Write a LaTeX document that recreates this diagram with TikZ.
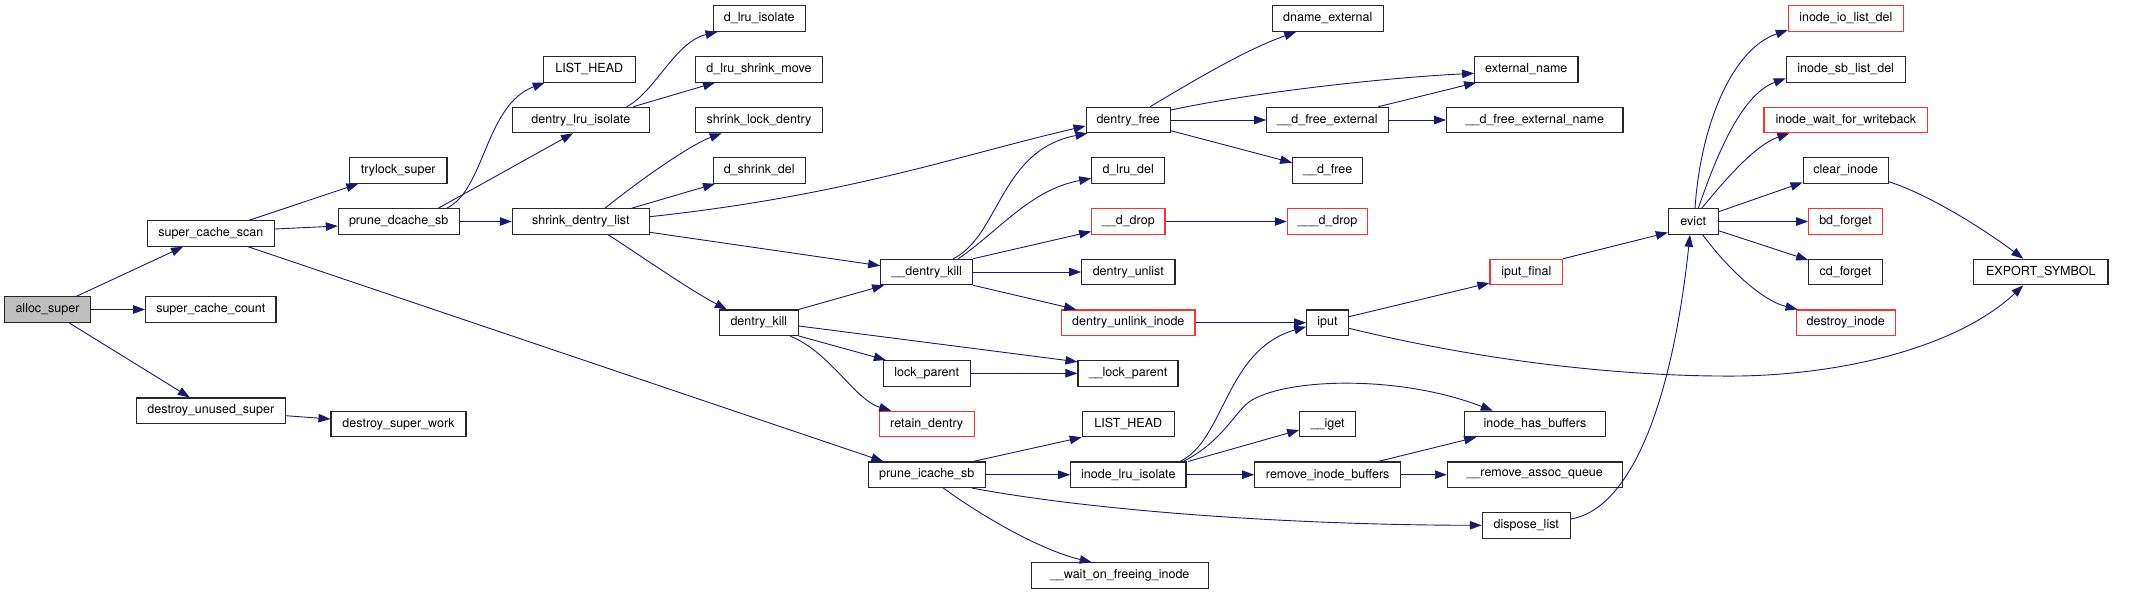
\documentclass[tikz,border=0pt]{standalone}
\usepackage{fontspec}
\setmainfont{TeX Gyre Heros}
\usetikzlibrary{arrows.meta,calc}
\definecolor{edgeblue}{RGB}{25,25,112}
\definecolor{nodered}{RGB}{255,50,50}
\definecolor{nodegray}{RGB}{191,191,191}
\tikzset{
  box/.style={draw=black!85, line width=1.1pt, fill=white, minimum height=25.5pt, inner sep=0pt, text=black, font=\fontsize{12.5}{14}\selectfont},
  redbox/.style={box, draw=nodered},
  graybox/.style={box, fill=nodegray},
  edge/.style={draw=edgeblue, line width=0.9pt, -{Triangle[length=12pt,width=8.5pt]}}
}
\begin{document}
\begin{tikzpicture}[x=1pt,y=-1pt]
\useasboundingbox (0,0) rectangle (2132,595);
% nodes
\node[graybox, minimum width=85.6pt] (alloc) at (47.5,309.5) {alloc\_super};
\node[box, minimum width=127pt] (scs) at (210.8,233.5) {super\_cache\_scan};
\node[box, minimum width=130.3pt] (scc) at (210.8,309.5) {super\_cache\_count};
\node[box, minimum width=149pt] (dus) at (210.8,410.7) {destroy\_unused\_super};
\node[box, minimum width=135pt] (dsw) at (398.5,424) {destroy\_super\_work};
\node[box, minimum width=97.3pt] (tls) at (398.3,170.5) {trylock\_super};
\node[box, minimum width=120.7pt] (pdc) at (398.7,221.5) {prune\_dcache\_sb};
\node[box, minimum width=116.7pt] (pic) at (926.7,474.7) {prune\_icache\_sb};
\node[box, minimum width=92pt] (lh1) at (589.3,69.3) {LIST\_HEAD};
\node[box, minimum width=137pt] (dli) at (580.8,120) {dentry\_lru\_isolate};
\node[box, minimum width=137pt] (sdl) at (580.8,221.5) {shrink\_dentry\_list};
\node[box, minimum width=79pt] (dk) at (758.8,322.7) {dentry\_kill};
\node[box, minimum width=92.3pt] (dlri) at (759.2,18.5) {d\_lru\_isolate};
\node[box, minimum width=126.6pt] (dlsm) at (759,69.3) {d\_lru\_shrink\_move};
\node[box, minimum width=126.6pt] (sld) at (759,120) {shrink\_lock\_dentry};
\node[box, minimum width=92.3pt] (dsd) at (759.2,170.5) {d\_shrink\_del};
\node[box, minimum width=92pt] (udk) at (926.7,272) {\_\_dentry\_kill};
\node[box, minimum width=86.7pt] (lp) at (926.7,373.3) {lock\_parent};
\node[redbox, minimum width=95.3pt] (rd) at (926.7,424) {retain\_dentry};
\node[box, minimum width=84.3pt] (df) at (1128.2,120) {dentry\_free};
\node[box, minimum width=73pt] (dld) at (1128.2,170.5) {d\_lru\_del};
\node[redbox, minimum width=73.3pt] (udd) at (1128.3,221.5) {\_\_d\_drop};
\node[box, minimum width=93.3pt] (dul) at (1128.3,272) {dentry\_unlist};
\node[redbox, minimum width=133.3pt] (dui) at (1128.3,322.7) {dentry\_unlink\_inode};
\node[box, minimum width=100pt] (ulp) at (1128,373.3) {\_\_lock\_parent};
\node[box, minimum width=92pt] (lh2) at (1128.3,424) {LIST\_HEAD};
\node[box, minimum width=115.3pt] (ili) at (1128.3,474.7) {inode\_lru\_isolate};
\node[box, minimum width=177.3pt] (wof) at (1119.7,575.5) {\_\_wait\_on\_freeing\_inode};
\node[box, minimum width=111.3pt] (dne) at (1327.7,18.5) {dname\_external};
\node[box, minimum width=121.6pt] (udfe) at (1327.5,120) {\_\_d\_free\_external};
\node[box, minimum width=70pt] (udf) at (1327.7,170.5) {\_\_d\_free};
\node[redbox, minimum width=80.4pt] (uudd) at (1327.5,221.5) {\_\_\_d\_drop};
\node[box, minimum width=41.6pt] (iput) at (1327.5,322.7) {iput};
\node[box, minimum width=56pt] (uig) at (1327.7,424) {\_\_iget};
\node[box, minimum width=146pt] (rib) at (1327.7,474.7) {remove\_inode\_buffers};
\node[box, minimum width=103.3pt] (en) at (1526.3,69.3) {external\_name};
\node[box, minimum width=176.3pt] (udfen) at (1534.8,120) {\_\_d\_free\_external\_name};
\node[redbox, minimum width=72.7pt] (ipf) at (1526.3,272) {iput\_final};
\node[box, minimum width=141.4pt] (ihb) at (1535,424) {inode\_has\_buffers};
\node[box, minimum width=174.7pt] (uraq) at (1534.7,474.7) {\_\_remove\_assoc\_queue};
\node[box, minimum width=88pt] (dl) at (1526.3,525.3) {dispose\_list};
\node[box, minimum width=49.7pt] (ev) at (1693.2,221.5) {evict};
\node[redbox, minimum width=115pt] (iild) at (1845.8,18.5) {inode\_io\_list\_del};
\node[box, minimum width=118.7pt] (isld) at (1845.7,69.3) {inode\_sb\_list\_del};
\node[redbox, minimum width=163.7pt] (iwfw) at (1845.8,120) {inode\_wait\_for\_writeback};
\node[box, minimum width=85.3pt] (ci) at (1845.7,170.5) {clear\_inode};
\node[redbox, minimum width=73.6pt] (bdf) at (1845.5,221.5) {bd\_forget};
\node[box, minimum width=73.6pt] (cdf) at (1845.5,272) {cd\_forget};
\node[redbox, minimum width=99.3pt] (di) at (1845.7,322.7) {destroy\_inode};
\node[box, minimum width=134.3pt] (es) at (2040.8,272) {EXPORT\_SYMBOL};
% edges
\draw[edge] ([xshift=29.2pt]alloc.north) -- ([xshift=-27.8pt]scs.south);
\draw[edge] (alloc) -- (scc);
\draw[edge] ([xshift=21.5pt]alloc.south) -- ([xshift=-21pt]dus.north);
\draw[edge] ([yshift=-5pt]dus.east) -- ([yshift=5pt]dsw.west);
\draw[edge] ([xshift=38.5pt]scs.north) -- ([xshift=-40pt]tls.south);
\draw[edge] ([yshift=4.5pt]scs.east) -- ([yshift=-4.5pt]pdc.west);
\draw[edge] ([xshift=37.5pt]scs.south) -- ([xshift=-43.4pt]pic.north);
\draw[edge] ([xshift=48pt]pdc.north) .. controls (485,190) and (485,105) .. ([xshift=2pt]lh1.south west);
\draw[edge] ([xshift=39.6pt]pdc.north) -- ([xshift=-7.8pt]dli.south);
\draw[edge] (pdc) -- (sdl);
\draw[edge] ([xshift=45.9pt]dli.north) .. controls (655,92) and (675,42) .. ([xshift=5pt]dlri.south west);
\draw[edge] ([xshift=52.5pt]dli.north) -- ([xshift=-44pt]dlsm.south);
\draw[edge] ([xshift=24.2pt]sdl.north) .. controls (640,180) and (690,145) .. ([xshift=-37.3pt]sld.south);
\draw[edge] ([xshift=50.9pt]sdl.north) -- ([xshift=-44.2pt]dsd.south);
\draw[edge] ([yshift=4.8pt]sdl.east) .. controls (850,195) and (960,155) .. ([yshift=-6pt]df.west);
\draw[edge] ([yshift=-10.8pt]sdl.east) -- ([yshift=6.3pt]udk.west);
\draw[edge] ([xshift=27.5pt]sdl.south) .. controls (650,262) and (690,290) .. ([xshift=-32pt]dk.north);
\draw[edge] (dk.north east) -- ([xshift=4pt]udk.south west);
\draw[edge] ([xshift=26.6pt]udk.north) .. controls (1000,235) and (1000,150) .. ([xshift=2pt]df.south west);
\draw[edge] ([xshift=31.6pt]udk.north) .. controls (1000,230) and (1030,190) .. ([yshift=-7.8pt]dld.west);
\draw[edge] (udk.north east) -- ([yshift=-10pt]udd.west);
\draw[edge] (udk) -- (dul);
\draw[edge] (udk.south east) -- ([xshift=15pt]dui.north west);
\draw[edge] ([yshift=-3.3pt]dk.east) -- ([yshift=11.5pt]ulp.west);
\draw[edge] (dk.south east) -- ([xshift=3pt]lp.north west);
\draw[edge] ([xshift=31.2pt]dk.south) .. controls (830,352) and (855,400) .. ([xshift=12.7pt]rd.north west);
\draw[edge] (lp) -- (ulp);
\draw[edge] ([xshift=46.6pt]pic.north) -- (lh2.south west);
\draw[edge] (pic) -- (ili);
\draw[edge] ([xshift=45pt]pic.south) .. controls (1100,512) and (1300,525) .. (dl.west);
\draw[edge] ([xshift=16.6pt]pic.south) .. controls (980,515) and (1040,550) .. ([xshift=-28pt]wof.north);
\draw[edge] ([xshift=51.7pt]ili.north) .. controls (1225,440) and (1225,350) .. ([yshift=-4pt]iput.west);
\draw[edge] ([xshift=55pt]ili.north) .. controls (1225,440) and (1235,410) .. (1252,400) .. controls (1290,378) and (1400,375) .. ([xshift=29pt]ihb.north west);
\draw[edge] ([xshift=60pt]ili.north) -- ([yshift=-6pt]uig.west);
\draw[edge] (ili) -- (rib);
\draw[edge] ([xshift=50.6pt]rib.north) -- ([xshift=12.4pt]ihb.south west);
\draw[edge] (rib) -- (uraq);
\draw[edge] ([yshift=6.3pt]dl.east) .. controls (1625,510) and (1670,420) .. ([xshift=-3.2pt]ev.south);
\draw[edge] ([yshift=6pt]iput.east) -- ([yshift=-11pt]ipf.west);
\draw[edge] ([yshift=-5.6pt]iput.east) .. controls (1500,365) and (1640,377) .. (1740,376) .. controls (1850,374) and (1960,345) .. ([xshift=-17.5pt]es.south);
\draw[edge] (ipf.north east) -- ([yshift=-11pt]ev.west);
\draw[edge] ([xshift=1.8pt]ev.north) .. controls (1700,130) and (1730,50) .. ([yshift=-11.5pt]iild.west);
\draw[edge] ([xshift=5.1pt]ev.north) .. controls (1715,160) and (1740,95) .. ([yshift=-9pt]isld.west);
\draw[edge] ([xshift=8.5pt]ev.north) .. controls (1725,180) and (1755,145) .. ([xshift=26pt]iwfw.south west);
\draw[edge] ([yshift=9.8pt]ev.east) -- ([yshift=-12pt]ci.west);
\draw[edge] (ev) -- (bdf);
\draw[edge] ([yshift=-9.2pt]ev.east) -- ([yshift=12pt]cdf.west);
\draw[edge] ([xshift=9.5pt]ev.south) .. controls (1725,265) and (1760,300) .. ([xshift=2pt]di.north west);
\draw[edge] ([yshift=-11.2pt]ci.east) .. controls (1930,195) and (1985,230) .. ([xshift=-17.5pt]es.north);
\draw[edge] ([xshift=21.8pt]df.north) .. controls (1195,80) and (1245,50) .. ([xshift=24.7pt]dne.south west);
\draw[edge] ([yshift=10pt]df.east) .. controls (1250,93) and (1380,78) .. ([yshift=-4pt]en.west);
\draw[edge] (df) -- (udfe);
\draw[edge] ([yshift=-10.7pt]df.east) -- ([yshift=7.8pt]udf.west);
\draw[edge] ([xshift=50.8pt]udfe.north) -- ([xshift=2pt]en.south west);
\draw[edge] (udfe) -- (udfen);
\draw[edge] (udd) -- (uudd);
\draw[edge] (dui) -- (iput);
\end{tikzpicture}
\end{document}
